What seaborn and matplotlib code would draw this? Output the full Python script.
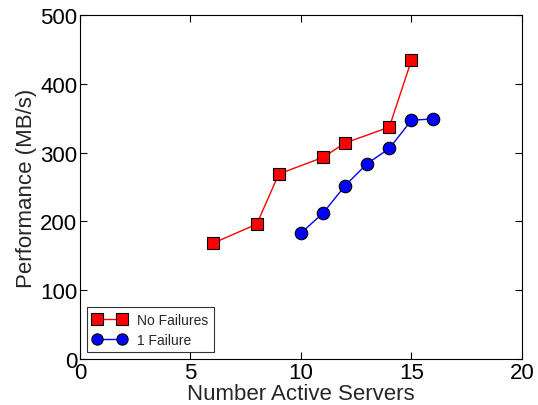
import matplotlib
matplotlib.use("Agg")
import matplotlib.pyplot as plt
import seaborn as sns
import pandas as pd

# Throughput measurements per server count
no_fail_servers = [6, 8, 9, 11, 12, 14, 15]
no_fail_perf = [168, 196, 269, 293, 314, 337, 434]
one_fail_servers = [10, 11, 12, 13, 14, 15, 16]
one_fail_perf = [183, 212, 252, 284, 306, 347, 349]

sns.set_theme(style="ticks")
plt.rcParams["font.family"] = ["Liberation Sans", "DejaVu Sans"]

fig = plt.figure(figsize=(5.38, 4.06), dpi=100)
ax = fig.add_axes([0.1487, 0.1133, 0.8213, 0.8473])

df_a = pd.DataFrame({"x": no_fail_servers, "y": no_fail_perf})
df_b = pd.DataFrame({"x": one_fail_servers, "y": one_fail_perf})

sns.lineplot(data=df_a, x="x", y="y", ax=ax, color="red", marker="s",
             markersize=9, markeredgecolor="black", markeredgewidth=0.8,
             linewidth=1.0, label="No Failures")
sns.lineplot(data=df_b, x="x", y="y", ax=ax, color="blue", marker="o",
             markersize=9, markeredgecolor="black", markeredgewidth=0.8,
             linewidth=1.0, label="1 Failure")

ax.set_xlim(0, 20)
ax.set_ylim(0, 500)
ax.set_xticks([0, 5, 10, 15, 20])
ax.set_yticks([0, 100, 200, 300, 400, 500])
ax.tick_params(direction="in", top=True, right=True, labelsize=16, length=5,
               width=0.8, colors="black", pad=2)
for s in ax.spines.values():
    s.set_linewidth(0.8)
    s.set_color("black")

ax.set_xlabel("Number Active Servers", fontsize=16, labelpad=0)
ax.set_ylabel("Performance (MB/s)", fontsize=16, labelpad=2)

leg = ax.legend(loc="lower left", fontsize=10, frameon=True, fancybox=False,
                edgecolor="black", handlelength=2.4, borderpad=0.4,
                labelspacing=0.4, borderaxespad=0.5, numpoints=2,
                markerscale=0.9)
leg.get_frame().set_linewidth(0.8)

fig.savefig("out.png", dpi=100)
